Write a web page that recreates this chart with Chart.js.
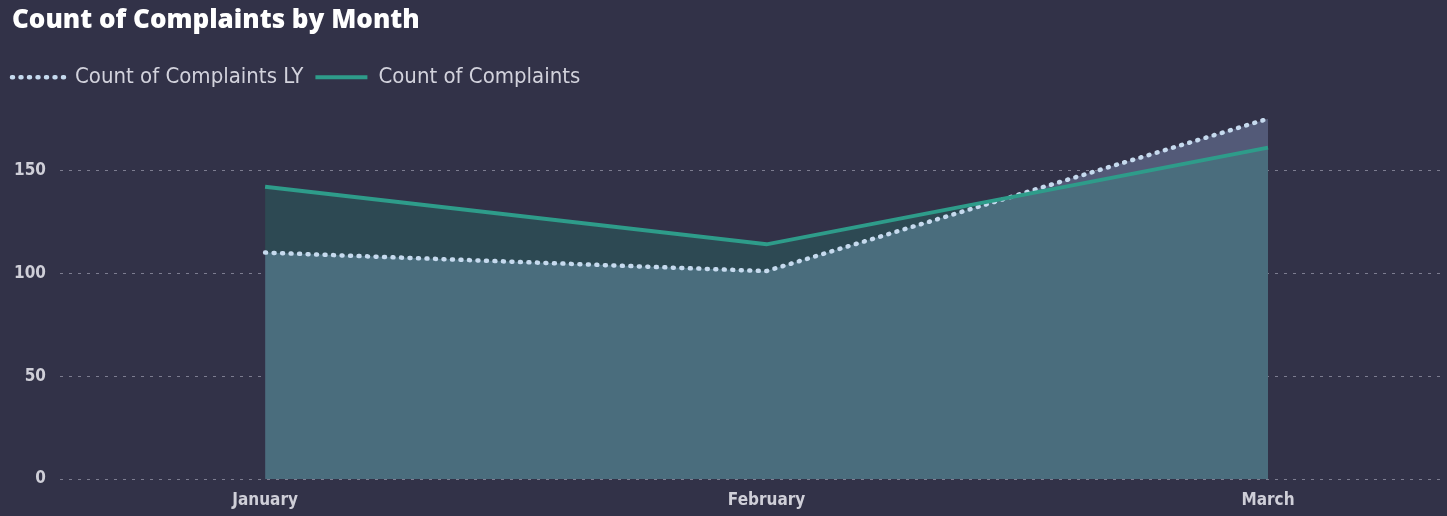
<!DOCTYPE html>
<html><head><meta charset="utf-8">
<script src="https://cdn.jsdelivr.net/npm/chart.js@4.4.1/dist/chart.umd.min.js"></script>
<style>html,body{margin:0;padding:0;background:#323248;}#wrap{width:1447px;height:516px;position:relative}</style>
</head><body><div id="wrap"><canvas id="c"></canvas></div>
<script>
const months = ['January', 'February', 'March'];
const complaints = [142, 114, 161];
const complaintsLY = [110, 101, 175];
const yTickValues = [0, 50, 100, 150];
const titleText = 'Count of Complaints by Month';
const seriesNames = ['Count of Complaints LY', 'Count of Complaints'];

const condensed = "'DejaVu Sans Condensed', 'Liberation Sans Narrow', Roboto, sans-serif";

const toPoints = arr => arr.map((v, i) => ({x: i, y: v}));

const titleIndent = {
  id: 'titleIndent',
  afterLayout(chart) {
    if (chart.titleBlock) { chart.titleBlock.left += 12; chart.titleBlock.right += 12; }
  }
};

new Chart(document.getElementById('c'), {
  type: 'line',
  plugins: [titleIndent],
  data: {
    datasets: [
      {
        label: seriesNames[0],
        data: toPoints(complaintsLY),
        borderColor: '#c6daee',
        borderWidth: 4.5,
        borderDash: [1, 7.5],
        borderCapStyle: 'round',
        backgroundColor: '#535a78',
        fill: 'origin',
        pointRadius: 0,
        tension: 0,
        order: 1
      },
      {
        label: seriesNames[1],
        data: toPoints(complaints),
        borderColor: '#2e9c8a',
        borderWidth: 4,
        backgroundColor: 'rgba(17,250,166,0.12)',
        fill: 'origin',
        pointRadius: 0,
        tension: 0,
        order: 0
      }
    ]
  },
  options: {
    responsive: true,
    maintainAspectRatio: false,
    animation: false,
    layout: {padding: {left: 0, right: 7, top: 0, bottom: 0}},
    plugins: {
      filler: {drawTime: 'beforeDatasetsDraw'},
      tooltip: {enabled: false},
      title: {
        display: true,
        text: titleText,
        align: 'start',
        color: '#ffffff',
        font: {family: "'Open Sans', sans-serif", size: 26, weight: 800},
        padding: {top: 5, bottom: 18}
      },
      legend: {
        display: true,
        position: 'top',
        align: 'start',
        labels: {
          color: '#d2d2dc',
          font: {family: condensed, size: 22},
          usePointStyle: true,
          pointStyle: 'line',
          pointStyleWidth: 52,
          padding: 12,
          sort: (a, b) => a.datasetIndex - b.datasetIndex,
          generateLabels: chart => {
            const items = Chart.defaults.plugins.legend.labels.generateLabels(chart);
            items.forEach(it => {
              const ds = chart.data.datasets[it.datasetIndex];
              it.lineDash = ds.borderDash || [];
              it.lineWidth = ds.borderWidth;
              it.strokeStyle = ds.borderColor;
              it.lineCap = ds.borderCapStyle || 'butt';
            });
            return items;
          }
        }
      }
    },
    scales: {
      x: {
        type: 'linear',
        min: -0.409,
        max: 2.343,
        afterBuildTicks: s => { s.ticks = months.map((m, i) => ({value: i})); },
        afterFit: s => { s.height = 37; },
        grid: {display: false, drawTicks: false},
        border: {display: false},
        ticks: {
          autoSkip: false,
          maxRotation: 0,
          padding: 11,
          color: '#cfcfd8',
          font: {family: condensed, size: 17, weight: 'bold'},
          callback: v => months[v]
        }
      },
      y: {
        type: 'linear',
        min: 0,
        max: 185,
        afterBuildTicks: s => { s.ticks = yTickValues.map(v => ({value: v})); },
        afterFit: s => { s.width = 60; },
        grid: {color: 'rgba(200,200,215,0.5)', lineWidth: 1, drawTicks: false},
        border: {display: false, dash: [3, 6]},
        ticks: {
          padding: 14,
          color: '#cfcfd8',
          font: {family: condensed, size: 17, weight: 'bold'}
        }
      }
    }
  }
});
</script>
</body></html>
